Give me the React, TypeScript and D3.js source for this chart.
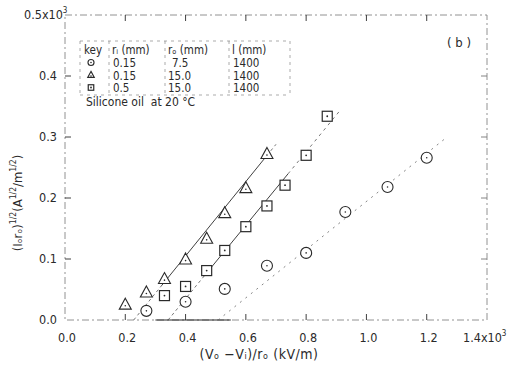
import React from 'react';
import * as d3 from 'd3';

// data
const triangleX = [0.2, 0.27, 0.33, 0.4, 0.47, 0.53, 0.6, 0.67];
const triangleY = [0.025, 0.045, 0.067, 0.099, 0.133, 0.175, 0.216, 0.272];
const squareX = [0.33, 0.4, 0.47, 0.53, 0.6, 0.67, 0.73, 0.8, 0.87];
const squareY = [0.04, 0.055, 0.081, 0.114, 0.153, 0.187, 0.221, 0.27, 0.334];
const circleX = [0.27, 0.4, 0.53, 0.67, 0.8, 0.93, 1.07, 1.2];
const circleY = [0.015, 0.03, 0.051, 0.089, 0.11, 0.177, 0.218, 0.266];

// fitted lines: [x-intercept, end x, end y]
const triangleFit = [0.228, 0.7, 0.288];
const squareFit = [0.342, 0.91, 0.342];
const circleFit = [0.508, 1.26, 0.297];

const xTicks = [0, 0.2, 0.4, 0.6, 0.8, 1.0, 1.2, 1.4];
const yTicks = [0, 0.1, 0.2, 0.3, 0.4, 0.5];

const keyHeader = ['key', 'rᵢ (mm)', 'rₒ (mm)', 'l (mm)'];
const keyRows = [
  { sym: 'circle', ri: '0.15', ro: '7.5', l: '1400' },
  { sym: 'triangle', ri: '0.15', ro: '15.0', l: '1400' },
  { sym: 'square', ri: '0.5', ro: '15.0', l: '1400' },
];

const font = '"DejaVu Sans Condensed", "Liberation Sans Narrow", "DejaVu Sans", sans-serif';
const ink = '#2a2a2a';

const Marker = ({ kind, x, y, s = 1 }: { kind: string; x: number; y: number; s?: number }) => {
  if (kind === 'circle')
    return (
      <g>
        <circle cx={x} cy={y} r={5.5 * s} fill="white" stroke={ink} strokeWidth={1.1} />
        <circle cx={x} cy={y} r={0.8} fill={ink} />
      </g>
    );
  if (kind === 'square')
    return (
      <g>
        <rect x={x - 5 * s} y={y - 5 * s} width={10 * s} height={10 * s} fill="white" stroke={ink} strokeWidth={1.2} />
        <circle cx={x} cy={y} r={0.9} fill={ink} />
      </g>
    );
  const h = 11 * s;
  const w = 12 * s;
  return (
    <g>
      <path
        d={`M${x},${y - h * 0.6}L${x + w / 2},${y + h * 0.4}L${x - w / 2},${y + h * 0.4}Z`}
        fill="white"
        stroke={ink}
        strokeWidth={1.1}
      />
      <circle cx={x} cy={y + 1} r={0.8} fill={ink} />
    </g>
  );
};

const App = () => {
  const x = d3.scaleLinear().domain([0, 1.4]).range([65, 487]);
  const y = d3.scaleLinear().domain([0, 0.5]).range([320, 15]);

  const line = d3
    .line<[number, number]>()
    .x((d) => x(d[0]))
    .y((d) => y(d[1]));

  const fitPts = (f: number[], from: number, to: number): [number, number][] => {
    const slope = f[2] / (f[1] - f[0]);
    return [
      [from, (from - f[0]) * slope],
      [to, (to - f[0]) * slope],
    ];
  };

  const pts = (xs: number[], ys: number[]) => xs.map((v, i) => [x(v), y(ys[i])]);

  const colX = [84, 112, 168, 232];

  return (
    <svg width={521} height={371} style={{ position: 'absolute', left: 0, top: 0, background: 'white' }} fontFamily={font}>
      {/* frame */}
      <rect x={65} y={15} width={422} height={305} fill="none" stroke="#777" strokeWidth={0.8} strokeDasharray="7,3,2,3" />
      <line x1={x(0.3)} x2={x(0.55)} y1={320} y2={320} stroke={ink} strokeWidth={1.1} />

      {/* ticks */}
      {xTicks.slice(1, -1).map((t) => (
        <g key={'xt' + t}>
          <line x1={x(t)} x2={x(t)} y1={320} y2={314} stroke={ink} strokeWidth={0.9} />
          <line x1={x(t)} x2={x(t)} y1={15} y2={21} stroke={ink} strokeWidth={0.9} />
        </g>
      ))}
      {yTicks.slice(1, -1).map((t) => (
        <g key={'yt' + t}>
          <line x1={65} x2={71} y1={y(t)} y2={y(t)} stroke={ink} strokeWidth={0.9} />
          <line x1={487} x2={481} y1={y(t)} y2={y(t)} stroke="#777" strokeWidth={0.9} />
        </g>
      ))}

      {/* tick labels */}
      {xTicks.map((t) =>
        t === 1.4 ? (
          <text key={'xl' + t} x={x(t) - 24} y={342} fontSize={12.5} fill={ink}>
            1.4x10<tspan dy={-6} fontSize={8}>3</tspan>
          </text>
        ) : (
          <text key={'xl' + t} x={x(t) + 2} y={342} fontSize={12.5} fill={ink} textAnchor="middle">
            {t.toFixed(1)}
          </text>
        )
      )}
      {yTicks.map((t) =>
        t === 0.5 ? (
          <text key={'yl' + t} x={24} y={y(t) + 4} fontSize={12.5} fill={ink}>
            0.5x10<tspan dy={-6} fontSize={8}>3</tspan>
          </text>
        ) : (
          <text key={'yl' + t} x={57} y={y(t) + 4} fontSize={12.5} fill={ink} textAnchor="end">
            {t.toFixed(1)}
          </text>
        )
      )}

      {/* axis titles */}
      <text x={259} y={359} fontSize={14} fill={ink} textAnchor="middle" letterSpacing={0.5}>
        (Vₒ −Vᵢ)/rₒ (kV/m)
      </text>
      <text transform="translate(22,203) rotate(-90)" fontSize={13} fill={ink} textAnchor="middle">
        (Iₒrₒ)<tspan fontSize={8.5} dy={-6}>1/2</tspan>
        <tspan dy={6}>(A</tspan>
        <tspan fontSize={8.5} dy={-6}>1/2</tspan>
        <tspan dy={6}>/m</tspan>
        <tspan fontSize={8.5} dy={-6}>1/2</tspan>
        <tspan dy={6}>)</tspan>
      </text>

      {/* fit lines */}
      <path d={line(fitPts(triangleFit, triangleFit[0], 0.32)) || ''} stroke="#555" strokeWidth={0.8} strokeDasharray="3,3" fill="none" />
      <path d={line(fitPts(triangleFit, 0.32, 0.67)) || ''} stroke={ink} strokeWidth={0.9} fill="none" />
      <path d={line(fitPts(triangleFit, 0.67, triangleFit[1])) || ''} stroke="#555" strokeWidth={0.8} strokeDasharray="3,3" fill="none" />
      <path d={line(fitPts(squareFit, squareFit[0], 0.46)) || ''} stroke="#555" strokeWidth={0.8} strokeDasharray="3,3" fill="none" />
      <path d={line(fitPts(squareFit, 0.46, 0.74)) || ''} stroke={ink} strokeWidth={0.9} fill="none" />
      <path d={line(fitPts(squareFit, 0.74, squareFit[1])) || ''} stroke="#555" strokeWidth={0.8} strokeDasharray="3,4" fill="none" />
      <path d={line(fitPts(circleFit, circleFit[0], circleFit[1])) || ''} stroke="#666" strokeWidth={0.8} strokeDasharray="2,5" fill="none" />

      {/* points */}
      {pts(circleX, circleY).map((p, i) => <Marker key={'c' + i} kind="circle" x={p[0]} y={p[1]} />)}
      {pts(squareX, squareY).map((p, i) => <Marker key={'s' + i} kind="square" x={p[0]} y={p[1]} />)}
      {pts(triangleX, triangleY).map((p, i) => <Marker key={'t' + i} kind="triangle" x={p[0]} y={p[1]} />)}

      {/* key table */}
      <g fill={ink} fontSize={11.5}>
        <line x1={80} x2={290} y1={41} y2={41} stroke="#888" strokeWidth={0.7} strokeDasharray="3,4" />
        <line x1={80} x2={290} y1={95} y2={95} stroke="#888" strokeWidth={0.7} strokeDasharray="3,4" />
        {[80, 109, 165, 229, 290].map((vx) => (
          <line key={'v' + vx} x1={vx} x2={vx} y1={41} y2={95} stroke="#888" strokeWidth={0.7} strokeDasharray="3,4" />
        ))}
        {keyHeader.map((h, i) => (
          <text key={'h' + i} x={colX[i]} y={54}>
            {h}
          </text>
        ))}
        {keyRows.map((r, i) => {
          const by = 67 + i * 12.5;
          return (
            <g key={'row' + i}>
              <Marker kind={r.sym} x={91} y={by - 4.5} s={0.55} />
              <text x={113} y={by}>{r.ri}</text>
              <text x={i === 0 ? 172 : 168} y={by}>{r.ro}</text>
              <text x={233} y={by}>{r.l}</text>
            </g>
          );
        })}
        <text x={86} y={106} fontSize={12}>Silicone oil&#160;&#160;at 20 °C</text>
      </g>

      <text x={447} y={47} fontSize={13} fill={ink}>( b )</text>
    </svg>
  );
};

export default App;
